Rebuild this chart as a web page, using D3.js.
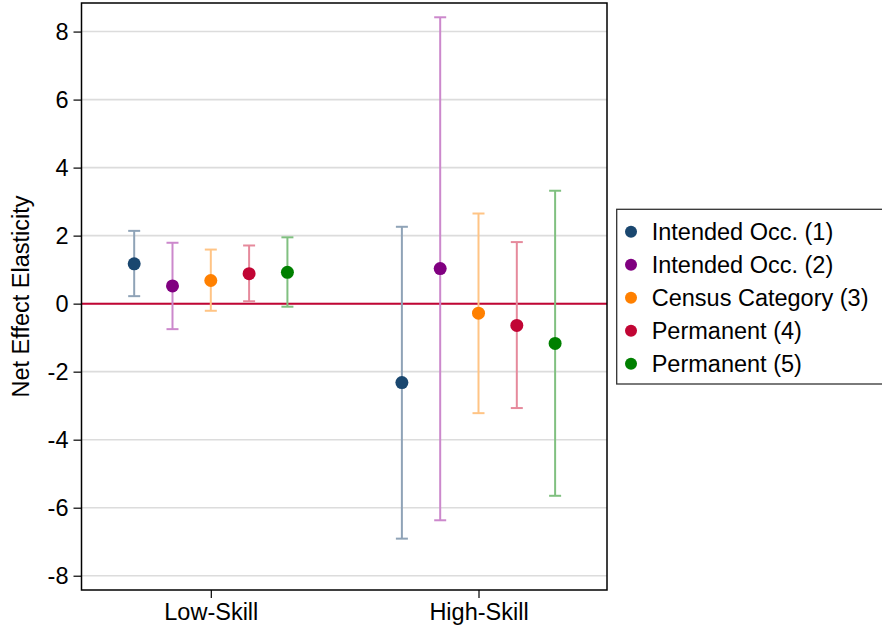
<html>
<head>
<meta charset="utf-8">
<style>
    body { margin:0; background:#fff; }
    svg { display:block; font-family:"Liberation Sans", Arial, sans-serif; }
</style>
</head>
<body>
<svg></svg>
<script src="https://d3js.org/d3.v7.min.js"></script>
<script>
    const groups = ["Low-Skill", "High-Skill"];
    const series = ["Intended Occ. (1)", "Intended Occ. (2)", "Census Category (3)", "Permanent (4)", "Permanent (5)"];
    const dotColors = ["#1a476f", "#800080", "#ff8000", "#c10534", "#008000"];
    const barColors = ["#8fa3b7", "#cc88cc", "#ffc485", "#e68a9c", "#80c080"];

    // estimates, [low, high] per series
    const est   = [[1.17, -2.32], [0.52, 1.03], [0.68, -0.28], [0.88, -0.64], [0.92, -1.17]];
    const lower = [[0.22, -6.91], [-0.75, -6.37], [-0.21, -3.22], [0.07, -3.07], [-0.09, -5.65]];
    const upper = [[2.14, 2.26], [1.79, 8.42], [1.59, 2.65], [1.71, 1.81], [1.95, 3.32]];
    const yTicks = [-8, -6, -4, -2, 0, 2, 4, 6, 8];

    const width = 882, height = 631;
    const margin = {top: 3, right: 275, bottom: 41, left: 81.5};
    const fs = 23.5;

    const svg = d3.select("svg").attr("width", width).attr("height", height);

    const x = d3.scaleLinear()
        .domain([0.517, 2.48])
        .range([margin.left, width - margin.right]);
    const y = d3.scaleLinear()
        .domain([-8.42, 8.84])
        .range([height - margin.bottom, margin.top]);
    const step = 0.1431;

    // grid
    svg.append("g")
        .selectAll("line")
        .data(yTicks)
        .join("line")
        .attr("x1", margin.left).attr("x2", width - margin.right)
        .attr("y1", d => y(d)).attr("y2", d => y(d))
        .attr("stroke", "#dcdcdc")
        .attr("stroke-width", 1.6);

    // zero line
    svg.append("line")
        .attr("x1", margin.left).attr("x2", width - margin.right)
        .attr("y1", y(0)).attr("y2", y(0))
        .attr("stroke", "#c10534")
        .attr("stroke-width", 2);

    // frame
    svg.append("rect")
        .attr("x", margin.left).attr("y", margin.top)
        .attr("width", width - margin.right - margin.left)
        .attr("height", height - margin.bottom - margin.top)
        .attr("fill", "none")
        .attr("stroke", "#000")
        .attr("stroke-width", 1.5);

    // axes
    const yAxis = d3.axisLeft(y).tickValues(yTicks).tickFormat(d => String(d)).tickSize(8).tickPadding(5);
    const gY = svg.append("g")
        .attr("transform", `translate(${margin.left},0)`)
        .call(yAxis);
    gY.select(".domain").remove();
    gY.selectAll("line").attr("stroke", "#000").attr("stroke-width", 1.2);
    gY.selectAll("text").attr("font-size", fs).attr("font-family", "Liberation Sans, Arial").attr("fill", "#000");

    const xAxis = d3.axisBottom(x).tickValues([1, 2]).tickFormat(d => groups[d - 1]).tickSize(8).tickPadding(5);
    const gX = svg.append("g")
        .attr("transform", `translate(0,${height - margin.bottom})`)
        .call(xAxis);
    gX.select(".domain").remove();
    gX.selectAll("line").attr("stroke", "#000").attr("stroke-width", 1.2);
    gX.selectAll("text").attr("font-size", fs).attr("font-family", "Liberation Sans, Arial").attr("fill", "#000");

    svg.append("text")
        .attr("transform", `translate(29,${(margin.top + height - margin.bottom) / 2}) rotate(-90)`)
        .attr("text-anchor", "middle")
        .attr("font-size", fs)
        .text("Net Effect Elasticity");

    // error bars + points
    const rows = [];
    series.forEach((s, i) => {
        groups.forEach((g, j) => {
            rows.push({i: i, xv: (j + 1) + (i - 2) * step, e: est[i][j], lo: lower[i][j], hi: upper[i][j]});
        });
    });

    const cap = 6;
    const bars = svg.append("g").selectAll("g").data(rows).join("g")
        .attr("stroke", d => barColors[d.i])
        .attr("stroke-width", 2);
    bars.append("line")
        .attr("x1", d => x(d.xv)).attr("x2", d => x(d.xv))
        .attr("y1", d => y(d.lo)).attr("y2", d => y(d.hi));
    bars.append("line")
        .attr("x1", d => x(d.xv) - cap).attr("x2", d => x(d.xv) + cap)
        .attr("y1", d => y(d.lo)).attr("y2", d => y(d.lo));
    bars.append("line")
        .attr("x1", d => x(d.xv) - cap).attr("x2", d => x(d.xv) + cap)
        .attr("y1", d => y(d.hi)).attr("y2", d => y(d.hi));

    svg.append("g").selectAll("circle").data(rows).join("circle")
        .attr("cx", d => x(d.xv))
        .attr("cy", d => y(d.e))
        .attr("r", 6.5)
        .attr("fill", d => dotColors[d.i]);

    // legend
    const lg = svg.append("g").attr("transform", "translate(616.7,209.3)");
    lg.append("rect")
        .attr("width", 280).attr("height", 174.7)
        .attr("fill", "#fff")
        .attr("stroke", "#333")
        .attr("stroke-width", 1.3);
    const items = lg.selectAll("g.item").data(series).join("g")
        .attr("class", "item")
        .attr("transform", (d, i) => `translate(0,${22.4 + i * 33})`);
    items.append("circle")
        .attr("cx", 14.3).attr("cy", 0).attr("r", 6)
        .attr("fill", (d, i) => dotColors[i]);
    items.append("text")
        .attr("x", 35)
        .attr("dy", "0.36em")
        .attr("font-size", fs)
        .text(d => d);
</script>
</body>
</html>
